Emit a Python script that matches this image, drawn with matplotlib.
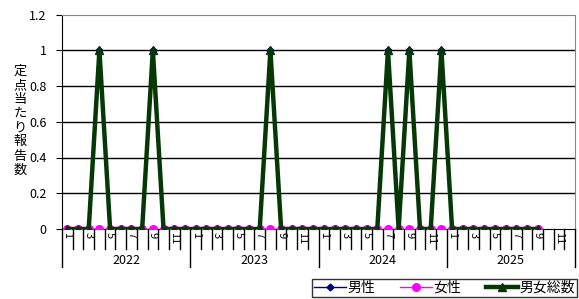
import matplotlib
matplotlib.use("Agg")
import matplotlib.pyplot as plt
import numpy as np

plt.rcParams['font.family'] = ['Noto Sans CJK JP', 'DejaVu Sans']

# ---- data: monthly values, 2022-01 .. 2025-09 --------------------------------
years = [2022, 2023, 2024, 2025]
months_per_year = 12
male = [0, 0, 0, 1, 0, 0, 0, 0, 1, 0, 0, 0,
        0, 0, 0, 0, 0, 0, 0, 1, 0, 0, 0, 0,
        0, 0, 0, 0, 0, 0, 1, 0, 1, 0, 0, 1,
        0, 0, 0, 0, 0, 0, 0, 0, 0]
female = [0] * len(male)
total = [m + f for m, f in zip(male, female)]
month_labels = ["1", "", "3", "", "5", "", "7", "", "9", "", "11", ""]
yticks = [0, 0.2, 0.4, 0.6, 0.8, 1.0, 1.2]
ytick_labels = ["0", "0.2", "0.4", "0.6", "0.8", "1", "1.2"]

NAVY = "#000080"
MAGENTA = "#ff00ff"
GREEN = "#063806"

fig = plt.figure(figsize=(5.79, 2.99), dpi=100)
ax = fig.add_axes([62/579, 1 - 229/299, 513/579, 214.5/299])

x = np.arange(len(male))
ax.plot(x, male, color=NAVY, lw=1, marker="D", ms=3.5, zorder=3, label="男性")
ax.plot(x, female, color=MAGENTA, lw=1, marker="o", ms=5.5, zorder=4, label="女性")
ax.plot(x, total, color=GREEN, lw=3.2, marker="^", ms=6, zorder=5, label="男女総数")

n = len(years) * months_per_year
ax.set_xlim(-0.5, n - 0.5)
ax.set_ylim(0, 1.2)
ax.set_yticks(yticks)
ax.set_yticklabels(ytick_labels, fontsize=9)
ax.tick_params(axis="y", length=4, pad=7)
ax.set_xticks([])
for y in yticks[1:-1]:
    ax.axhline(y, color="black", lw=1, zorder=1)

for s in ("top", "right"):
    ax.spines[s].set_color("#888888")
ax.spines["left"].set_color("black")
ax.spines["bottom"].set_color("black")

# month / year category axis below
tr = ax.get_xaxis_transform()
for i in range(n + 1):
    bottom = -0.177 if i % 12 == 0 else -0.093
    ax.plot([i - 0.5, i - 0.5], [0, bottom], color="black", lw=1,
            transform=tr, clip_on=False)
for i in range(n):
    lab = month_labels[i % 12]
    if lab:
        ax.text(i, -0.012, lab, rotation=270, ha="center", va="top",
                fontsize=8, transform=tr)
for k, yr in enumerate(years):
    ax.text(k * 12 + 5.5, -0.145, str(yr), ha="center", va="center",
            fontsize=9, transform=tr)

# vertical y label, one character per line
ax.text(-0.082, 0.505, "\n".join("定点当たり報告数"), transform=ax.transAxes,
        ha="center", va="center", fontsize=9.5, linespacing=1.12)

leg = fig.legend(loc="lower right", bbox_to_anchor=(577/579, 2/299), ncol=3,
                 fontsize=10, frameon=True, fancybox=False, edgecolor="black",
                 borderpad=0.15, handlelength=2.3, columnspacing=1.8,
                 handletextpad=0.1, borderaxespad=0)
leg.get_frame().set_linewidth(1)

fig.savefig("out.png", dpi=100, facecolor="white")
